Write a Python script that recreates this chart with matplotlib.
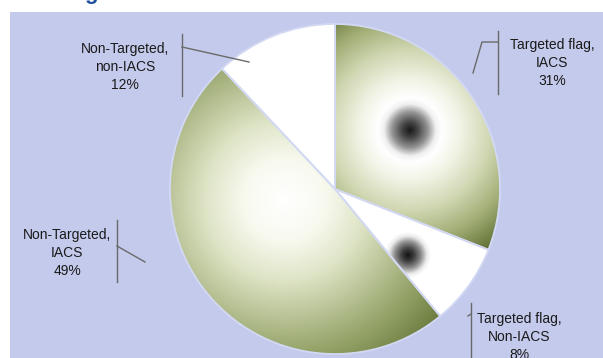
import numpy as np
import matplotlib
matplotlib.use("Agg")
import matplotlib.pyplot as plt
from matplotlib.patches import Rectangle

plt.rcParams['font.family'] = ['Liberation Sans', 'DejaVu Sans']

# slice data, clockwise from 12 o'clock
labels = ["Targeted flag,\nIACS\n31%", "Targeted flag,\nNon-IACS\n8%",
          "Non-Targeted,\nIACS\n49%", "Non-Targeted,\nnon-IACS\n12%"]
shares = [31, 8, 49, 12]
explode = [0.0, 0.04, 0.02, 0.06]

W, H = 603, 358
fig = plt.figure(figsize=(W / 100, H / 100), dpi=100, facecolor='white')
ax = fig.add_axes([0, 0, 1, 1])
ax.set_xlim(0, W)
ax.set_ylim(0, H)
ax.axis('off')

# panel background
ax.add_patch(Rectangle((10, 0), W - 10, H - 12, facecolor='#c4caeb',
                       edgecolor='none', zorder=0))
# bottom of the cropped title
ax.text(91, H + 1, "g", color='#1f4f9f', fontsize=16, fontweight='bold',
        ha='center', va='baseline', clip_on=False)

cx, cy, r = 335, H - 189, 165
wedges, _ = ax.pie(shares, explode=explode, startangle=90, counterclock=False,
                   center=(cx, cy), radius=r, frame=True,
                   wedgeprops=dict(facecolor='none', edgecolor='#d3d9f3',
                                   linewidth=1.3, zorder=3))

# radial shading for each slice
xx, yy = np.meshgrid(np.arange(W) + 0.5, np.arange(H) + 0.5)


def radial(px, py, stops):
    d = np.hypot(xx - px, yy - (H - py))
    ds = [s[0] for s in stops]
    img = np.zeros((H, W, 3))
    for k in range(3):
        img[..., k] = np.interp(d, ds, [s[1][k] / 255 for s in stops])
    return img


spot = [(0, (25, 25, 25)), (8, (70, 70, 70)), (18, (150, 150, 150)),
        (26, (240, 240, 240)), (32, (255, 255, 255))]
shades = [
    radial(410, 130, spot + [(50, (242, 244, 230)), (80, (208, 215, 178)),
                             (110, (162, 174, 118)), (140, (100, 116, 56))]),
    radial(408, 255, [(0, (20, 20, 20)), (6, (60, 60, 60)), (13, (140, 140, 140)),
                      (19, (235, 235, 235)), (23, (255, 255, 255))]),
    radial(285, 200, [(0, (255, 255, 255)), (40, (248, 250, 240)),
                      (80, (222, 228, 198)), (120, (182, 192, 146)),
                      (160, (142, 157, 97)), (200, (102, 117, 56))]),
    np.ones((H, W, 3)),
]
for w, img in zip(wedges, shades):
    im = ax.imshow(img, extent=(0, W, 0, H), origin='lower', zorder=2,
                   interpolation='bilinear')
    im.set_clip_path(w)

ax.set_xlim(0, W)
ax.set_ylim(0, H)
ax.set_aspect('auto')

# labels and leader lines
label_xy = [(552, 63), (519, 337), (67, 253), (125, 67)]
leaders = [
    [[(498, 31), (498, 94)], [(498, 42), (482, 42), (473, 73)]],
    [[(471, 303), (471, 360)], [(471, 314), (468, 316)]],
    [[(117, 220), (117, 282)], [(117, 246), (145, 262)]],
    [[(182, 34), (182, 96)], [(182, 47), (249, 62)]],
]
for lab, (lx, ly), segs in zip(labels, label_xy, leaders):
    ax.text(lx, H - ly, lab, ha='center', va='center', fontsize=10,
            color='#1a1a1a', linespacing=1.33, zorder=5)
    for seg in segs:
        sx = [p[0] for p in seg]
        sy = [H - p[1] for p in seg]
        ax.plot(sx, sy, color='#6a6a6a', lw=1, zorder=5)

fig.savefig("out.png", dpi=100, facecolor='white')
